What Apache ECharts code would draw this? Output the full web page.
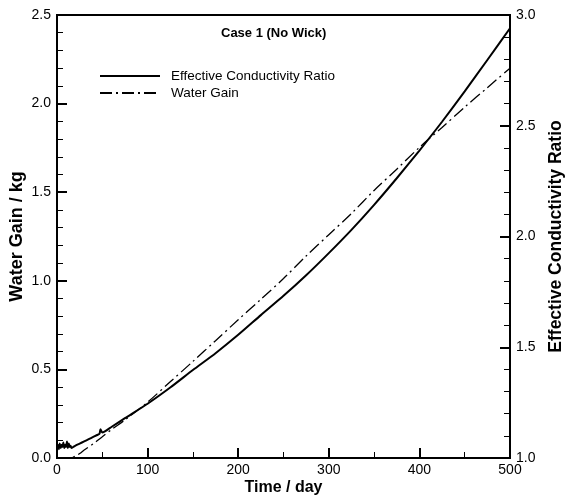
<!DOCTYPE html>
<html>
<head>
<meta charset="utf-8">
<script src="https://cdn.jsdelivr.net/npm/echarts@6/dist/echarts.min.js"></script>
<style>html,body{margin:0;padding:0;background:#fff}#c{width:567px;height:496px}</style>
</head>
<body>
<div id="c"></div>
<script>
// Water gain (kg), left axis
const gainDays = [0, 5, 10, 15, 20, 25, 30, 40, 50, 60, 75, 100, 125, 150, 175, 200, 225, 250, 275, 300, 325, 350, 375, 400, 425, 450, 475, 500];
const gainVals = [0, 0, 0, 0, 0.01, 0.025, 0.045, 0.08, 0.12, 0.16, 0.215, 0.315, 0.43, 0.545, 0.662, 0.78, 0.895, 1.013, 1.14, 1.26, 1.38, 1.51, 1.63, 1.753, 1.865, 1.98, 2.09, 2.20];
// Effective conductivity ratio, right axis
const ratioDays = [0, 1, 2, 3, 4, 5, 6, 7, 8, 9, 10, 11, 12, 13, 14, 15, 16, 18, 20, 25, 30, 35, 40, 45, 47, 48, 50, 60, 75, 100, 125, 150, 175, 200, 225, 250, 275, 300, 325, 350, 375, 400, 425, 450, 475, 500];
const ratioVals = [1.04, 1.06, 1.04, 1.065, 1.045, 1.06, 1.05, 1.07, 1.045, 1.06, 1.05, 1.075, 1.045, 1.065, 1.05, 1.055, 1.045, 1.05, 1.055, 1.065, 1.075, 1.085, 1.095, 1.105, 1.11, 1.13, 1.115, 1.14, 1.18, 1.245, 1.318, 1.397, 1.473, 1.556, 1.645, 1.732, 1.825, 1.925, 2.03, 2.143, 2.263, 2.388, 2.518, 2.655, 2.797, 2.94];
const xTicks = [0, 100, 200, 300, 400, 500];

const gainData = gainDays.map((d, i) => [d, gainVals[i]]);
const ratioData = ratioDays.map((d, i) => [d, ratioVals[i]]);

const FONT = 'Liberation Sans, Arial, sans-serif';
const chart = echarts.init(document.getElementById('c'));
const axisCommon = {
  axisLine: {show: true, lineStyle: {color: '#000', width: 2}},
  axisTick: {show: true, inside: true, length: 10, lineStyle: {color: '#000', width: 2}},
  minorTick: {show: true, length: 6, lineStyle: {color: '#000', width: 1}},
  splitLine: {show: false},
  nameMoveOverlap: false,
  axisLabel: {color: '#000', fontFamily: FONT, fontSize: 14},
  nameTextStyle: {color: '#000', fontFamily: FONT, fontSize: 18, fontWeight: 'bold'}
};
chart.setOption({
  animation: false,
  backgroundColor: '#fff',
  title: {
    text: 'Case 1 (No Wick)', left: 216, top: 22, padding: 5,
    textStyle: {fontFamily: FONT, fontSize: 13, fontWeight: 'bold', color: '#000'}
  },
  legend: {
    orient: 'vertical', left: 99, top: 69, padding: 0, itemWidth: 60, itemHeight: 12, itemGap: 3,
    itemStyle: {opacity: 0},
    textStyle: {fontFamily: FONT, fontSize: 13.5, color: '#000', padding: [0, 0, 0, 6]},
    data: ['Effective Conductivity Ratio', 'Water Gain']
  },
  grid: {left: 57, right: 57, top: 15, bottom: 38, outerBoundsMode: 'none', containLabel: false,
    show: true, borderColor: '#000', borderWidth: 2, backgroundColor: 'transparent'},
  xAxis: Object.assign({}, axisCommon, {
    type: 'value', min: 0, max: 500, interval: 100,
    minorTick: {show: true, splitNumber: 2, length: 6, lineStyle: {color: '#000', width: 1}},
    axisLabel: Object.assign({}, axisCommon.axisLabel, {margin: 5, formatter: v => xTicks.includes(v) ? String(v) : ''}),
    name: 'Time / day', nameLocation: 'middle', nameGap: 22,
    nameTextStyle: {color: '#000', fontFamily: FONT, fontSize: 16, fontWeight: 'bold'}
  }),
  yAxis: [
    Object.assign({}, axisCommon, {
      type: 'value', position: 'left', min: 0, max: 2.5, interval: 0.5,
      minorTick: {show: true, splitNumber: 5, length: 6, lineStyle: {color: '#000', width: 1}},
      axisLabel: Object.assign({}, axisCommon.axisLabel, {margin: 6, formatter: v => v.toFixed(1)}),
      name: 'Water Gain / kg', nameLocation: 'middle', nameGap: 31, nameRotate: 90
    }),
    Object.assign({}, axisCommon, {
      type: 'value', position: 'right', min: 1, max: 3, interval: 0.5,
      minorTick: {show: true, splitNumber: 5, length: 6, lineStyle: {color: '#000', width: 1}},
      axisLabel: Object.assign({}, axisCommon.axisLabel, {margin: 6, formatter: v => v.toFixed(1)}),
      name: 'Effective Conductivity Ratio', nameLocation: 'middle', nameGap: 37, nameRotate: 90,
      nameTextStyle: {color: '#000', fontFamily: FONT, fontSize: 17.5, fontWeight: 'bold'}
    })
  ],
  series: [
    {
      name: 'Effective Conductivity Ratio', type: 'line', yAxisIndex: 1, data: ratioData,
      symbol: 'none', smooth: 0.2,
      lineStyle: {color: '#000', width: 2, type: 'solid'}, itemStyle: {color: '#000'}
    },
    {
      name: 'Water Gain', type: 'line', yAxisIndex: 0, data: gainData,
      symbol: 'none', smooth: 0.3,
      lineStyle: {color: '#000', width: 1.3, type: [12, 4, 2, 4]}, itemStyle: {color: '#000'}
    }
  ]
});
</script>
</body>
</html>
